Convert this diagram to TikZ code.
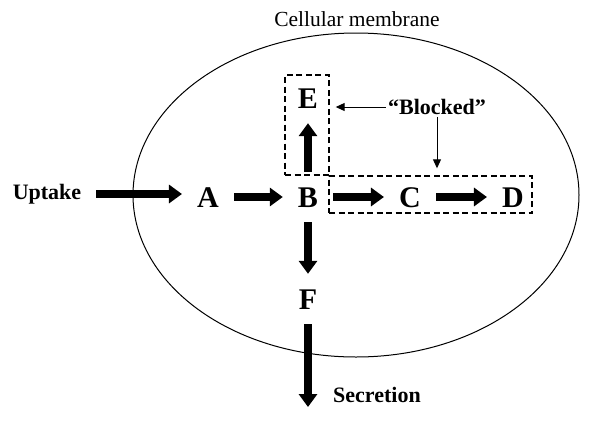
\documentclass[tikz,border=0pt]{standalone}
\usepackage{fontspec}
\setmainfont{Liberation Serif}
\usetikzlibrary{arrows.meta}

\tikzset{
    letter/.style={font=\bfseries\fontsize{30}{30}\selectfont, inner sep=0pt, text height=20pt, text depth=0pt},
    label/.style={font=\bfseries\fontsize{22}{22}\selectfont, inner sep=0pt},
    flow/.style={-{Triangle[length=13pt,width=18pt]}, line width=7.5pt, shorten <=15pt, shorten >=15pt},
    thin/.style={-{Triangle[length=9pt,width=8pt]}, line width=1pt},
    blockbox/.style={draw, dashed, dash pattern=on 6pt off 3.5pt, line width=1.4pt, inner sep=0pt}
}

\begin{document}
\begin{tikzpicture}[x=1pt, y=-1pt]
        \useasboundingbox (0,0) rectangle (600,432);
        % membrane
        \draw[line width=1pt] (356,195) ellipse [x radius=223pt, y radius=162pt];
        \node[font=\fontsize{21.5}{21.5}\selectfont, inner sep=0pt] (membrane) at (357,19) {Cellular membrane};
        % metabolites
        \node[letter] (A) at (208,197) {A};
        \node[letter] (B) at (308,197) {B};
        \node[letter] (C) at (410,197) {C};
        \node[letter] (D) at (513,197) {D};
        \node[letter] (E) at (308,98) {E};
        \node[letter] (F) at (308,299) {F};
        \node[label] (uptake) at (47,194) {Uptake};
        \node[label] (secretion) at (377,395) {Secretion};
        \coordinate (out) at (308,407);
        \draw[flow] (uptake.east) -- (uptake.east -| A.west);
        \draw[flow] (A) -- (B);
        \draw[flow] (B) -- (C);
        \draw[flow] (C) -- (D);
        \draw[flow] (B) -- (E);
        \draw[flow] (B) -- (F);
        \draw[flow, shorten >=0pt] (F) -- (out);
        % blocked steps
        \node[blockbox, minimum width=44pt, minimum height=100pt] (boxE) at (307,125) {};
        \node[blockbox, minimum width=203pt, minimum height=37pt] (boxCD) at (430.5,194.5) {};
        \node[label] (blocked) at (437,107) {``Blocked''};
        \draw[thin, shorten <=2pt, shorten >=6pt] (blocked.west) -- (blocked.west -| boxE.east);
        \draw[thin, shorten <=2pt, shorten >=7pt] (blocked.south) -- (blocked.south |- boxCD.north);
    \end{tikzpicture}
\end{document}
